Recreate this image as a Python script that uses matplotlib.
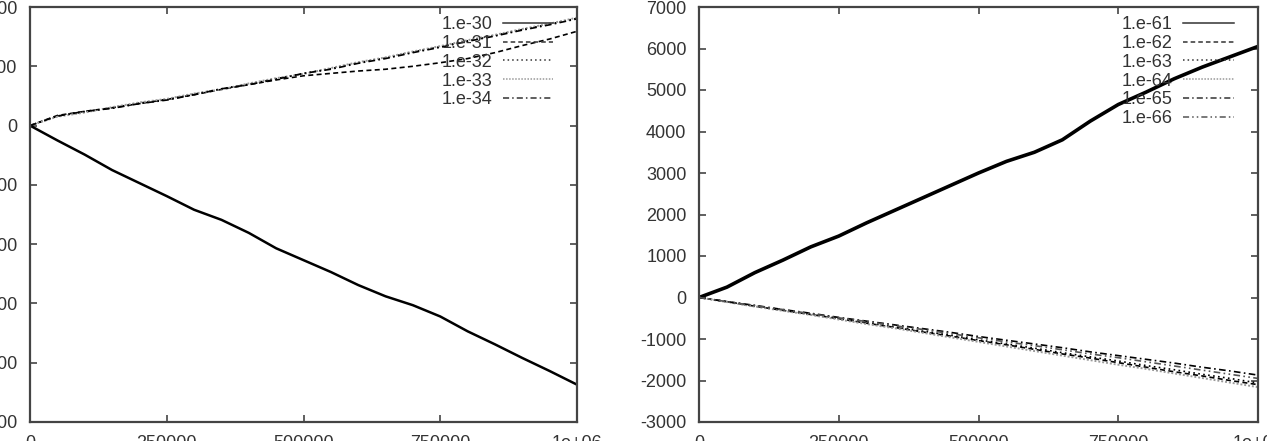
import matplotlib
matplotlib.use("Agg")
import matplotlib.pyplot as plt

plt.rcParams['font.family'] = ['Liberation Sans', 'DejaVu Sans']
plt.rcParams['axes.unicode_minus'] = False

# step count (x) shared by all series
steps = [0, 50000, 100000, 150000, 200000, 250000, 300000, 350000, 400000,
         450000, 500000, 550000, 600000, 650000, 700000, 750000, 800000,
         850000, 900000, 950000, 1000000]

# left panel
e30 = [0, -250, -490, -750, -970, -1190, -1420, -1590, -1810, -2070, -2270,
       -2470, -2690, -2880, -3030, -3220, -3470, -3690, -3920, -4140, -4370]
e31 = [0, 170, 240, 300, 370, 440, 520, 610, 690, 770, 840,
       880, 920, 950, 1000, 1060, 1130, 1230, 1350, 1460, 1590]
e32 = [0, 160, 230, 300, 380, 440, 530, 620, 700, 790, 880,
       960, 1060, 1140, 1240, 1330, 1430, 1520, 1620, 1710, 1810]
e33 = [0, 150, 220, 310, 390, 450, 540, 610, 710, 800, 870,
       970, 1070, 1150, 1250, 1340, 1440, 1530, 1630, 1720, 1820]
e34 = [0, 160, 240, 290, 370, 430, 520, 620, 690, 780, 880,
       950, 1050, 1130, 1230, 1320, 1420, 1510, 1610, 1700, 1800]

# right panel
e61 = [0, 250, 600, 900, 1220, 1480, 1800, 2100, 2400, 2700, 3000,
       3280, 3500, 3800, 4250, 4650, 4950, 5270, 5550, 5800, 6050]
e62 = [0, -100, -210, -310, -410, -510, -620, -720, -830, -930, -1040,
       -1140, -1250, -1360, -1460, -1570, -1680, -1790, -1890, -2000, -2100]
e63 = [0, -100, -200, -300, -400, -500, -610, -710, -810, -910, -1020,
       -1120, -1220, -1330, -1430, -1530, -1640, -1740, -1850, -1950, -2060]
e64 = [0, -110, -220, -320, -420, -530, -640, -740, -850, -960, -1070,
       -1180, -1290, -1400, -1510, -1620, -1720, -1830, -1940, -2050, -2160]
e65 = [0, -100, -190, -290, -380, -480, -570, -660, -750, -840, -940,
       -1030, -1120, -1210, -1310, -1400, -1490, -1580, -1680, -1770, -1870]
e66 = [0, -100, -200, -290, -390, -490, -580, -680, -770, -870, -970,
       -1070, -1160, -1260, -1360, -1450, -1550, -1650, -1750, -1850, -1950]

xticks = [0, 250000, 500000, 750000, 1000000]
xlabels = ['0', '250000', '500000', '750000', '1e+06']

fig = plt.figure(figsize=(12.67, 4.41), dpi=100)
ax1 = fig.add_axes([30 / 1267, 19 / 441, 547 / 1267, 415 / 441])
ax2 = fig.add_axes([699 / 1267, 19 / 441, 559 / 1267, 415 / 441])

ax1.plot(steps, e30, color='black', lw=1.8, label='1.e-30')
ax1.plot(steps, e31, color='black', lw=1.2, ls=(0, (3, 2)), label='1.e-31')
ax1.plot(steps, e32, color='black', lw=1.2, ls=(0, (1, 2)), label='1.e-32')
ax1.plot(steps, e33, color='#999999', lw=1.4, ls=(0, (1, 1)), label='1.e-33')
ax1.plot(steps, e34, color='black', lw=1.2, ls=(0, (4, 2, 1, 2)), label='1.e-34')
ax1.set_ylim(-5000, 2000)
ax1.set_yticks(range(-5000, 2001, 1000))

ax2.plot(steps, e61, color='black', lw=2.6, label='1.e-61')
ax2.plot(steps, e62, color='black', lw=1.2, ls=(0, (3, 2)), label='1.e-62')
ax2.plot(steps, e63, color='black', lw=1.2, ls=(0, (1, 2)), label='1.e-63')
ax2.plot(steps, e64, color='#999999', lw=1.4, ls=(0, (1, 1)), label='1.e-64')
ax2.plot(steps, e65, color='black', lw=1.2, ls=(0, (4, 2, 1, 2)), label='1.e-65')
ax2.plot(steps, e66, color='#555555', lw=1.2, ls=(0, (4, 2, 1, 2, 1, 2)), label='1.e-66')
ax2.set_ylim(-3000, 7000)
ax2.set_yticks(range(-3000, 7001, 1000))

for ax in (ax1, ax2):
    ax.set_xlim(0, 1000000)
    ax.set_xticks(xticks)
    ax.set_xticklabels(xlabels)
    ax.tick_params(direction='in', top=True, right=True, length=5,
                   width=1.2, color='#444444', labelsize=13,
                   labelcolor='#333333', pad=9)
    for s in ax.spines.values():
        s.set_color('#444444')
        s.set_linewidth(1.6)
    leg = ax.legend(loc='upper right', bbox_to_anchor=(0.957, 0.978),
                    frameon=False, markerfirst=False, fontsize=13,
                    handlelength=2.8, handletextpad=0.6, labelspacing=0.1,
                    borderpad=0, borderaxespad=0)
    for t in leg.get_texts():
        t.set_color('#333333')
    for h in leg.get_lines():
        h.set_linewidth(1.1)
        if h.get_color() == 'black':
            h.set_color('#333333')

fig.savefig('out.png', dpi=100)
